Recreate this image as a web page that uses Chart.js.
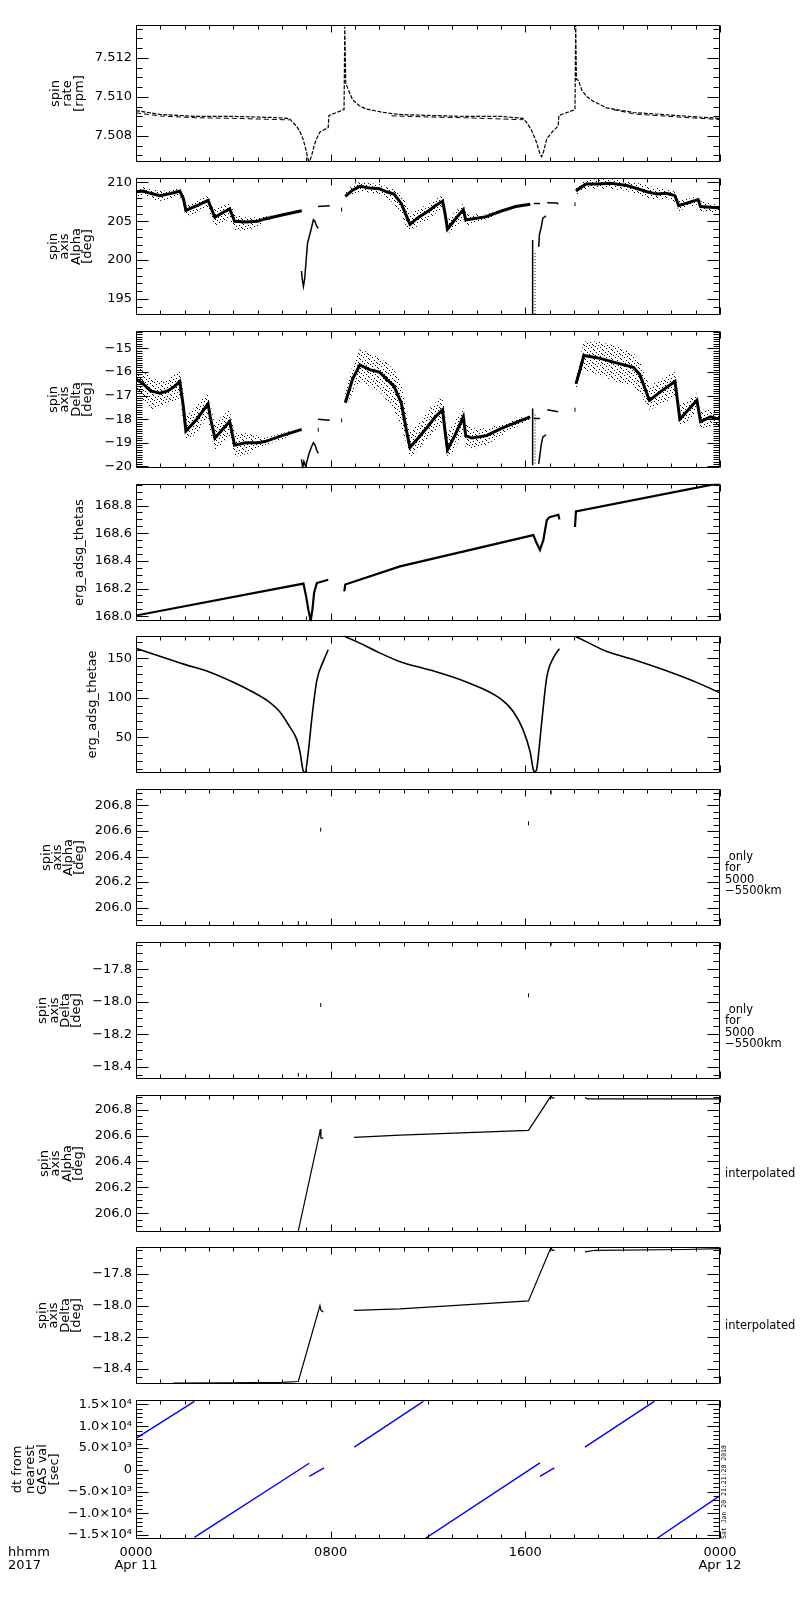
<!DOCTYPE html>
<html>
<head>
<meta charset="utf-8">
<script src="https://cdn.jsdelivr.net/npm/chart.js@4.4.1/dist/chart.umd.min.js"></script>
<style>
  body { margin: 0; background: #fff; width: 800px; height: 1600px; position: relative; overflow: hidden; }
  canvas { position: absolute; left: 0; }
</style>
</head>
<body>
<script>
// ---- x axis (hours of 2017 Apr 11) ----
const xTickHours = [0, 8, 16, 24];
const xTickTime = ['0000', '0800', '1600', '0000'];
const xTickDate = ['Apr 11', '', '', 'Apr 12'];

// ---- panel 1: spin rate [rpm] ----
const spinRate = [[0,7.5093],[0.5,7.5092],[1.0,7.5091],[2.5,7.5090],[4.0,7.5090],[5.5,7.50895],[6.3,7.5089],[6.45,7.50868],[6.6,7.5085],[6.74,7.5082],[6.85,7.5079],[6.94,7.5075],[7.02,7.5071],[7.08,7.50676],[7.14,7.5067],[7.22,7.5070],[7.32,7.5075],[7.42,7.50785],[7.56,7.5082],[7.9,7.50843],[7.93,7.50905],[8.55,7.50935],[8.58,7.5136],[8.62,7.5107],[8.75,7.5103],[8.9,7.50985],[9.18,7.50955],[9.45,7.50938],[10.1,7.50922],[10.8,7.5091],[12.0,7.50905],[13.5,7.5090],[15.0,7.5090],[15.9,7.5089],[16.05,7.5087],[16.25,7.5083],[16.45,7.5077],[16.6,7.5071],[16.67,7.50693],[16.75,7.5072],[16.88,7.50785],[17.14,7.50826],[17.35,7.5085],[17.38,7.50905],[18.04,7.50935],[18.07,7.5137],[18.1,7.5109],[18.18,7.51085],[18.32,7.51035],[18.52,7.51002],[18.8,7.50977],[19.34,7.50944],[20.44,7.5092],[22.5,7.50902],[24.0,7.5089]];
const spinRateLow = [[0,7.50918],[1.0,7.50902],[2.5,7.50893],[4.0,7.5089],[5.5,7.50885],[6.3,7.50882],[6.35,null],[10.5,7.50903],[12.0,7.50897],[13.5,7.50893],[15.9,7.50883],[15.95,null],[19.6,7.50935],[20.5,7.50912],[22.5,7.50895],[24.0,7.50884]];
const rateTicks = [7.508, 7.510, 7.512];
const rateTickLabels = ['7.508', '7.510', '7.512'];

// ---- panel 2: spin axis Alpha [deg] ----
const alphaHours = [0,0.3,0.6,0.98,1.3,1.6,1.8,1.95,2.05,2.5,2.96,3.05,3.24,3.5,3.85,3.95,4.05,4.5,5.0,5.3,6.0,6.81, 7.5,
  8.6,8.9,9.2,9.6,10.0,10.3,10.6,10.9,11.1,11.26,11.6,12.0,12.3,12.6,12.7,12.8,13.1,13.45,13.55,13.8,14.4,15.0,15.6,16.2, 17.0,
  18.08,18.3,18.5,19.0,19.5,20.17,20.5,21.0,21.4,21.8,22.15,22.3,22.7,23.1,23.2,23.6,24.0];
const alphaCore = [208.8,208.9,208.6,208.3,208.5,208.7,208.9,207.9,206.4,207.0,207.7,207.0,205.5,206.0,206.6,205.8,205.0,204.9,205.0,205.3,205.8,206.35, null,
  208.2,209.0,209.5,209.3,209.2,208.8,208.5,207.3,205.8,204.6,205.5,206.3,207.0,207.6,206.0,204.0,205.2,206.5,205.2,205.3,205.6,206.3,206.9,207.2, null,
  208.9,209.4,209.8,209.8,209.9,209.6,209.3,208.8,208.5,208.6,208.3,207.0,207.4,207.8,206.9,206.8,206.7];
const alphaHigh = [209.4,209.4,209.2,208.9,209.0,209.1,209.3,208.6,207.2,207.6,208.3,207.8,206.6,206.9,207.3,206.8,205.8,205.6,205.5,205.6,206.0,206.5, null,
  208.6,209.7,210.1,209.9,209.8,209.5,209.3,208.6,207.4,206.0,206.6,207.2,207.8,208.4,207.2,205.2,206.2,207.3,206.2,205.9,205.9,206.5,207.1,207.35, null,
  209.3,209.9,210.3,210.4,210.4,210.2,210.0,209.6,209.3,209.2,208.8,207.8,207.9,208.3,207.6,207.3,207.1];
const alphaLow = [208.2,208.3,207.9,207.6,207.8,208.0,208.3,207.0,205.6,206.1,206.8,206.0,204.4,204.6,205.4,204.6,203.8,203.8,204.3,205.0,205.6,206.2, null,
  207.9,208.4,208.8,208.7,208.5,208.0,207.3,205.8,204.3,203.8,204.4,205.2,206.0,206.6,204.8,203.3,204.2,205.3,204.4,204.7,205.3,206.1,206.7,207.05, null,
  208.4,208.8,209.2,209.2,209.2,208.9,208.6,207.9,207.8,207.9,207.5,206.3,206.8,207.2,206.3,206.2,206.2];
const alphaTraces = [[6.8,198.6],[6.83,197.6],[6.88,196.6],[6.93,197.5],[7.0,200.3],[7.05,202.2],[7.12,203.0],[7.2,204.0],[7.29,205.2],[7.35,205.0],[7.42,204.4],[7.49,204.1],[7.5,null],
  [7.48,206.9],[7.96,207.0],[8.0,null],
  [16.3,202.6],[16.3,192.9],[16.31,null],[16.55,201.7],[16.58,203.3],[16.65,204.2],[16.72,205.4],[16.85,205.7],[16.87,null],
  [16.35,207.3],[16.6,207.3],[16.62,null],[16.9,207.4],[17.3,207.35],[17.35,207.2]];
const alphaDotted = [[16.4,200.9],[16.4,192.9]];
const alphaDots = [[8.45,206.5],[18.04,207.2]];
const alphaTicks = [195, 200, 205, 210];
const alphaTickLabels = ['195', '200', '205', '210'];

// ---- panel 3: spin axis Delta [deg] ----
const deltaHours = [0,0.3,0.6,0.98,1.3,1.6,1.8,1.95,2.05,2.5,2.96,3.05,3.24,3.5,3.85,3.95,4.05,4.5,5.0,5.3,6.0,6.81, 7.5,
  8.6,8.9,9.2,9.6,10.0,10.3,10.6,10.9,11.1,11.26,11.6,12.0,12.3,12.6,12.7,12.8,13.1,13.45,13.55,13.8,14.4,15.0,15.6,16.2, 17.0,
  18.08,18.25,18.4,19.0,19.7,20.44,20.7,21.1,21.6,22.15,22.35,22.7,23.05,23.2,23.6,24.0];
const deltaCore = [-16.3,-16.5,-16.8,-16.9,-16.8,-16.6,-16.4,-17.5,-18.5,-18.0,-17.35,-17.9,-18.8,-18.5,-18.1,-18.6,-19.1,-19.0,-19.0,-18.95,-18.7,-18.43, null,
  -17.3,-16.3,-15.7,-15.9,-16.0,-16.3,-16.6,-17.3,-18.4,-19.2,-18.8,-18.3,-17.9,-17.6,-18.5,-19.3,-18.7,-17.9,-18.7,-18.8,-18.7,-18.4,-18.15,-17.9, null,
  -16.5,-15.9,-15.3,-15.4,-15.6,-15.8,-16.1,-17.2,-16.8,-16.4,-18.0,-17.6,-17.2,-18.1,-17.9,-18.0];
const deltaHigh = [-15.8,-15.9,-16.2,-16.4,-16.3,-16.1,-16.0,-16.9,-17.9,-17.4,-16.9,-17.3,-18.2,-17.9,-17.6,-18.1,-18.6,-18.6,-18.7,-18.8,-18.6,-18.35, null,
  -16.9,-15.7,-15.0,-15.2,-15.4,-15.6,-15.9,-16.5,-17.6,-18.5,-18.2,-17.6,-17.3,-17.0,-17.8,-18.6,-18.1,-17.5,-18.1,-18.4,-18.4,-18.2,-18.0,-17.8, null,
  -16.2,-15.4,-14.7,-14.7,-14.9,-15.2,-15.5,-16.6,-16.3,-16.0,-17.4,-17.2,-16.9,-17.6,-17.6,-17.7];
const deltaLow = [-17.0,-17.3,-17.6,-17.5,-17.4,-17.2,-17.1,-18.2,-18.9,-18.6,-17.9,-18.6,-19.3,-19.1,-18.7,-19.1,-19.6,-19.5,-19.3,-19.1,-18.85,-18.52, null,
  -17.5,-16.9,-16.4,-16.6,-16.8,-17.2,-17.6,-18.3,-19.0,-19.6,-19.3,-18.8,-18.5,-18.2,-19.0,-19.6,-19.3,-18.5,-19.2,-19.3,-19.1,-18.7,-18.35,-18.05, null,
  -16.9,-16.4,-15.9,-16.1,-16.4,-16.6,-16.9,-17.6,-17.4,-17.0,-18.3,-18.1,-17.6,-18.4,-18.3,-18.3];
const deltaTraces = [[6.8,-19.7],[6.85,-20.05],[6.9,-19.8],[6.97,-20.0],[7.05,-19.7],[7.1,-19.5],[7.2,-19.2],[7.29,-19.0],[7.36,-19.1],[7.42,-19.3],[7.49,-19.45],[7.5,null],
  [7.48,-18.0],[7.96,-18.05],[8.0,null],
  [16.3,-17.55],[16.3,-19.95],[16.31,null],[16.55,-19.9],[16.6,-19.5],[16.65,-19.1],[16.72,-18.75],[16.85,-18.67],[16.87,null],
  [16.35,-17.97],[16.6,-17.97],[16.62,null],[16.9,-17.6],[17.35,-17.68]];
const deltaDotted = [[16.4,-17.8],[16.4,-19.95]];
const deltaDots = [[7.49,-18.45],[8.45,-18.05],[18.04,-17.6]];
const deltaTicks = [-20, -19, -18, -17, -16, -15];
const deltaTickLabels = ['−20', '−19', '−18', '−17', '−16', '−15'];

// ---- panel 4: erg_adsg_thetas ----
const thetas = [[0,168.005],[6.88,168.236],[6.99,168.145],[7.08,168.05],[7.18,167.966],[7.25,168.05],[7.32,168.17],[7.43,168.24],[7.9,168.264],[8.2,null],
  [8.56,168.18],[8.6,168.229],[10.85,168.36],[16.33,168.586],[16.44,168.538],[16.6,168.479],[16.74,168.55],[16.88,168.693],[16.99,168.716],[17.36,168.733],[17.4,168.7],[17.7,null],
  [18.04,168.645],[18.08,168.757],[24,168.962]];
const thetasTicks = [168.0, 168.2, 168.4, 168.6, 168.8];
const thetasTickLabels = ['168.0', '168.2', '168.4', '168.6', '168.8'];

// ---- panel 5: erg_adsg_thetae ----
const thetae = [[0,162.7],[0.98,152.5],[2.0,142.2],[2.96,133.1],[4.0,119.5],[4.8,107.2],[5.37,96.9],[5.9,82.4],[6.3,64],[6.6,47.5],[6.74,31],[6.88,6.7],[6.95,5.5],[7.08,31],[7.22,72.2],[7.43,121.6],[7.7,146.3],[7.9,160.7],[8.2,null],
  [8.52,178.4],[9.07,171],[9.89,158.6],[10.8,146.3],[12.2,134],[13.6,119.5],[14.96,99],[15.5,82.5],[15.9,59.8],[16.2,31],[16.33,8.4],[16.4,6],[16.47,10],[16.67,68],[16.88,125.7],[17.15,150.4],[17.4,162],[17.7,null],
  [18.04,178],[18.5,171],[19.35,158.6],[20.44,148.4],[21.8,134],[23.18,117.5],[24,106]];
const thetaeTicks = [50, 100, 150];
const thetaeTickLabels = ['50', '100', '150'];

// ---- panels 6,7: only for 5000-5500km ----
const alphaOnly = [[6.67,205.88],[7.59,206.61],[16.13,206.66],[17.06,206.9]];
const deltaOnly = [[6.67,-18.45],[7.59,-18.02],[16.13,-17.96],[17.06,-17.64]];
const alphaFineTicks = [206.0, 206.2, 206.4, 206.6, 206.8];
const alphaFineTickLabels = ['206.0', '206.2', '206.4', '206.6', '206.8'];
const deltaFineTicks = [-18.4, -18.2, -18.0, -17.8];
const deltaFineTickLabels = ['−18.4', '−18.2', '−18.0', '−17.8'];

// ---- panels 8,9: interpolated ----
const alphaInterp = [[6.67,205.865],[7.56,206.63],[7.57,206.65],[7.6,206.58],[7.7,206.58],[8.0,null],
  [8.96,206.585],[10.85,206.603],[16.13,206.64],[17.06,206.906],[17.1,206.89],[17.2,206.89],[17.5,null],
  [18.45,206.893],[18.55,206.883],[24,206.883]];
const deltaInterp = [[1.53,-18.49],[3.79,-18.488],[5.99,-18.485],[6.67,-18.48],[7.56,-18.0],[7.6,-18.03],[7.7,-18.04],[8.0,null],
  [8.96,-18.03],[10.85,-18.02],[16.13,-17.97],[17.06,-17.63],[17.1,-17.65],[17.2,-17.65],[17.5,null],
  [18.45,-17.66],[18.87,-17.65],[22.56,-17.645],[24,-17.64]];

// ---- panel 10: dt from nearest GAS val [sec] ----
const dtNearest = [[0,7200],[2.4,15700],[2.4,null],[2.4,-15540],[7.12,1490],[7.12,null],[7.12,-1510],[7.73,450],[7.8,null],
  [8.97,5200],[11.81,15700],[11.85,null],[11.88,-15800],[16.6,1580],[16.6,null],[16.6,-1500],[17.19,450],[17.3,null],
  [18.45,5200],[21.3,15700],[21.33,null],[21.37,-15900],[24,-5950]];
const dtTicks = [-15000, -10000, -5000, 0, 5000, 10000, 15000];
const dtTickLabels = ['−1.5×10⁴', '−1.0×10⁴', '−5.0×10³', '0', '5.0×10³', '1.0×10⁴', '1.5×10⁴'];

// ---------------------------------------------------------------
Chart.defaults.font.family = 'DejaVu Sans';
Chart.defaults.font.size = 13;
Chart.defaults.color = '#000';

function xy(list) { return list.map(p => ({ x: p[0], y: p[1] })); }
function zip(hours, vals) { return hours.map((h, i) => ({ x: h, y: vals[i] })); }
function line(data, extra) {
  return Object.assign({ data, borderColor: '#000', borderWidth: 1, pointRadius: 0, tension: 0, fill: false, spanGaps: false }, extra || {});
}
function dots(data, extra) {
  return Object.assign({ data, showLine: false, pointStyle: 'line', rotation: 90, pointRadius: 2, borderWidth: 1, borderColor: '#000' }, extra || {});
}
function band(hours, hi, lo, core, pattern) {
  return [
    line(zip(hours, hi), { borderColor: 'rgba(0,0,0,0)' }),
    line(zip(hours, lo), { borderColor: 'rgba(0,0,0,0)', fill: '-1', backgroundColor: pattern }),
    line(zip(hours, core), { borderWidth: 3 })
  ];
}
// fixed dot texture for the scattered point clouds
function speckle(ctx) {
  const t = document.createElement('canvas');
  t.width = 9; t.height = 9;
  const g = t.getContext('2d');
  g.fillStyle = '#000';
  [[1,0],[6,1],[3,2],[8,3],[0,4],[5,5],[2,6],[7,7],[4,8],[8,8]].forEach(([a, b]) => g.fillRect(a, b, 1, 1));
  return ctx.createPattern(t, 'repeat');
}

// IDL style frame: box, inward ticks on all sides, rotated titles, side notes
const idlFrame = {
  id: 'idlFrame',
  afterDraw(chart, args, o) {
    const { ctx, chartArea: a, scales: { x, y } } = chart;
    const L = Math.round(a.left) + 0.5, R = Math.round(a.right) - 0.5;
    const T = Math.round(a.top) + 0.5, B = Math.round(a.bottom) - 0.5;
    ctx.save();
    ctx.strokeStyle = '#000';
    ctx.lineWidth = 1;
    ctx.beginPath();
    ctx.rect(L, T, R - L, B - T);
    for (let h = 0; h <= 24; h++) {
      const px = Math.round(x.getPixelForValue(h)) + 0.5;
      const len = h % 8 === 0 ? 7 : 4;
      ctx.moveTo(px, B); ctx.lineTo(px, B - len);
      ctx.moveTo(px, T); ctx.lineTo(px, T + len);
    }
    const step = o.minor;
    for (let k = Math.ceil(y.min / step - 1e-6); k * step <= y.max + 1e-9; k++) {
      const v = k * step;
      const major = o.majors.some(m => Math.abs(m - v) < step * 0.01);
      const len = major ? 12 : 6;
      const py = Math.round(y.getPixelForValue(v)) + 0.5;
      ctx.moveTo(L, py); ctx.lineTo(L + len, py);
      ctx.moveTo(R, py); ctx.lineTo(R - len, py);
    }
    ctx.stroke();

    ctx.fillStyle = '#000';
    ctx.font = '13px "DejaVu Sans"';
    ctx.textAlign = 'center';
    ctx.textBaseline = 'middle';
    const cy = (a.top + a.bottom) / 2;
    const n = o.title.length;
    o.title.forEach((t, i) => {
      ctx.save();
      ctx.translate(o.titleX - (n - 1 - i) * o.titleGap, cy);
      ctx.rotate(-Math.PI / 2);
      ctx.fillText(t, 0, 0);
      ctx.restore();
    });

    if (o.note) {
      ctx.textAlign = 'left';
      ctx.font = '11.5px "DejaVu Sans"';
      o.note.forEach((t, i) => ctx.fillText(t, 725, a.top + o.noteY + i * 11.4));
    }
    if (o.footer) {
      ctx.textAlign = 'left';
      ctx.font = '13px "DejaVu Sans"';
      ctx.fillText('hhmm', 8, a.bottom + 14);
      ctx.fillText('2017', 8, a.bottom + 27);
      ctx.save();
      ctx.font = '6.5px "DejaVu Sans Mono"';
      ctx.translate(724, a.bottom);
      ctx.rotate(-Math.PI / 2);
      ctx.fillText('Sat Jan 20 21:21:28 2018', 0, 0);
      ctx.restore();
    }
    ctx.restore();
  }
};

const panelTops = [23, 176, 329, 482, 634, 787, 940, 1093, 1245, 1398];
const PANEL_H = 141;

const panels = [
  { min: 7.50665, max: 7.5137, ticks: rateTicks, labels: rateTickLabels, minor: 0.0005,
    title: ['spin', 'rate', '[rpm]'], titleX: 80, titleGap: 12,
    sets: () => [
      line(xy(spinRate), { borderWidth: 1.2, borderDash: [4, 1.5] }),
      line(xy(spinRateLow), { borderWidth: 1, borderDash: [5, 3] })
    ] },
  { min: 192.9, max: 210.6, ticks: alphaTicks, labels: alphaTickLabels, minor: 1,
    title: ['spin', 'axis', 'Alpha', '[deg]'], titleX: 88, titleGap: 11.5,
    sets: p => [
      ...band(alphaHours, alphaHigh, alphaLow, alphaCore, p),
      line(xy(alphaTraces), { borderWidth: 1.5 }),
      line(xy(alphaDotted), { borderWidth: 1, borderDash: [1, 2] }),
      dots(xy(alphaDots))
    ] },
  { min: -20.08, max: -14.25, ticks: deltaTicks, labels: deltaTickLabels, minor: 0.1,
    title: ['spin', 'axis', 'Delta', '[deg]'], titleX: 88, titleGap: 11.5,
    sets: p => [
      ...band(deltaHours, deltaHigh, deltaLow, deltaCore, p),
      line(xy(deltaTraces), { borderWidth: 1.5 }),
      line(xy(deltaDotted), { borderWidth: 1, borderDash: [1, 2] }),
      dots(xy(deltaDots))
    ] },
  { min: 167.964, max: 168.957, ticks: thetasTicks, labels: thetasTickLabels, minor: 0.05,
    title: ['erg_adsg_thetas'], titleX: 80, titleGap: 12,
    sets: () => [line(xy(thetas), { borderWidth: 2.2 })] },
  { min: 4.3, max: 178.4, ticks: thetaeTicks, labels: thetaeTickLabels, minor: 10,
    title: ['erg_adsg_thetae'], titleX: 93, titleGap: 12,
    sets: () => [line(xy(thetae), { borderWidth: 1.6, cubicInterpolationMode: 'monotone' })] },
  { min: 205.855, max: 206.93, ticks: alphaFineTicks, labels: alphaFineTickLabels, minor: 0.05,
    title: ['spin', 'axis', 'Alpha', '[deg]'], titleX: 80, titleGap: 11,
    note: [' only', 'for', '5000', '−5500km'], noteY: 68,
    sets: () => [dots(xy(alphaOnly))] },
  { min: -18.477, max: -17.63, ticks: deltaFineTicks, labels: deltaFineTickLabels, minor: 0.05,
    title: ['spin', 'axis', 'Delta', '[deg]'], titleX: 77, titleGap: 11.3,
    note: [' only', 'for', '5000', '−5500km'], noteY: 68,
    sets: () => [dots(xy(deltaOnly))] },
  { min: 205.854, max: 206.914, ticks: alphaFineTicks, labels: alphaFineTickLabels, minor: 0.05,
    title: ['spin', 'axis', 'Alpha', '[deg]'], titleX: 79, titleGap: 11.5,
    note: ['interpolated'], noteY: 79,
    sets: () => [line(xy(alphaInterp), { borderWidth: 1.2 })] },
  { min: -18.497, max: -17.628, ticks: deltaFineTicks, labels: deltaFineTickLabels, minor: 0.05,
    title: ['spin', 'axis', 'Delta', '[deg]'], titleX: 77, titleGap: 11.5,
    note: ['interpolated'], noteY: 79,
    sets: () => [line(xy(deltaInterp), { borderWidth: 1.2 })] },
  { min: -15900, max: 16060, ticks: dtTicks, labels: dtTickLabels, minor: 1000,
    title: ['dt from', 'nearest', 'GAS val', '[sec]'], titleX: 55, titleGap: 12.3, footer: true,
    sets: () => [line(xy(dtNearest), { borderWidth: 1.4, borderColor: '#0000ff' })] }
];

panels.forEach((pn, i) => {
  const last = i === panels.length - 1;
  const cv = document.createElement('canvas');
  const h = PANEL_H + 10 + (last ? 50 : 10);
  cv.width = 800; cv.height = h;
  cv.style.width = '800px'; cv.style.height = h + 'px';
  cv.style.top = (panelTops[i] - 10) + 'px';
  document.body.appendChild(cv);
  const ctx = cv.getContext('2d');
  new Chart(ctx, {
    type: 'line',
    data: { datasets: pn.sets(speckle(ctx)) },
    options: {
      responsive: false,
      animation: false,
      events: [],
      layout: { padding: { left: 0, right: 80, top: 10, bottom: 10 } },
      plugins: {
        legend: { display: false },
        tooltip: { enabled: false },
        idlFrame: { minor: pn.minor, majors: pn.ticks, title: pn.title, titleX: pn.titleX, titleGap: pn.titleGap,
                    note: pn.note || null, noteY: pn.noteY || 0, footer: !!pn.footer }
      },
      scales: {
        x: {
          type: 'linear', min: 0, max: 24, display: last,
          afterBuildTicks: s => { s.ticks = xTickHours.map(v => ({ value: v })); },
          afterFit: s => { s.height = last ? 40 : 0; },
          ticks: { autoSkip: false, maxRotation: 0, padding: 7, font: { size: 13, lineHeight: 1.0 },
                   callback: (v, k) => [xTickTime[k], xTickDate[k]] },
          grid: { display: false, drawTicks: false },
          border: { display: false }
        },
        y: {
          type: 'linear', min: pn.min, max: pn.max,
          afterBuildTicks: s => { s.ticks = pn.ticks.map(v => ({ value: v })); },
          afterFit: s => { s.width = 136; },
          ticks: { autoSkip: false, padding: 4, callback: (v, k) => pn.labels[k] },
          grid: { display: false, drawTicks: false },
          border: { display: false }
        }
      }
    },
    plugins: [idlFrame]
  });
});
</script>
</body>
</html>
